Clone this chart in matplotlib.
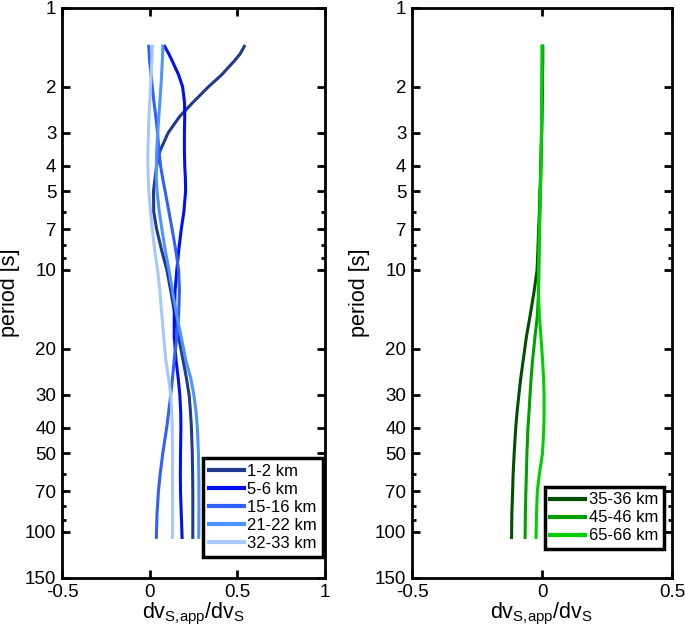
import matplotlib
matplotlib.use("Agg")
import matplotlib.pyplot as plt
from matplotlib.ticker import FixedLocator, NullFormatter

plt.rcParams['font.family'] = ['Liberation Sans', 'DejaVu Sans']
plt.rcParams['mathtext.fontset'] = 'custom'
plt.rcParams['mathtext.rm'] = 'Liberation Sans'
plt.rcParams['mathtext.it'] = 'Liberation Sans'

period = [1.4, 1.5, 1.6, 1.8, 2.0, 2.3, 2.6, 3.0, 3.5, 4.0, 4.5, 5.0, 6.0, 7.0, 8.5,
          10, 12, 15, 18, 22, 26, 30, 35, 40, 50, 60, 70, 85, 105]

# left panel (crust)
v_1_2 = [0.54, 0.515, 0.48, 0.41, 0.335, 0.245, 0.17, 0.105, 0.06, 0.04, 0.03, 0.022, 0.023, 0.04, 0.07,
         0.098, 0.12, 0.145, 0.165, 0.19, 0.21, 0.225, 0.233, 0.238, 0.243, 0.245, 0.246, 0.246, 0.246]
v_5_6 = [0.085, 0.11, 0.13, 0.165, 0.188, 0.199, 0.2, 0.198, 0.198, 0.2, 0.204, 0.205, 0.195, 0.18, 0.165,
         0.155, 0.145, 0.14, 0.14, 0.15, 0.163, 0.172, 0.177, 0.178, 0.176, 0.175, 0.176, 0.18, 0.185]
v_15_16 = [-0.005, -0.003, 0.0, 0.008, 0.015, 0.025, 0.035, 0.045, 0.053, 0.062, 0.075, 0.088, 0.11, 0.128, 0.15,
           0.165, 0.17, 0.165, 0.155, 0.14, 0.13, 0.12, 0.108, 0.097, 0.075, 0.06, 0.05, 0.042, 0.038]
v_21_22 = [0.075, 0.074, 0.072, 0.068, 0.064, 0.058, 0.052, 0.046, 0.04, 0.038, 0.038, 0.042, 0.055, 0.07, 0.09,
           0.11, 0.13, 0.155, 0.18, 0.205, 0.235, 0.252, 0.265, 0.272, 0.278, 0.28, 0.281, 0.281, 0.28]
v_32_33 = [0.015, 0.014, 0.012, 0.008, 0.005, 0.0, -0.004, -0.007, -0.01, -0.01, -0.008, -0.005, 0.005, 0.015, 0.03,
           0.045, 0.058, 0.07, 0.08, 0.092, 0.108, 0.12, 0.126, 0.129, 0.13, 0.13, 0.13, 0.13, 0.13]

# right panel (mantle)
v_35_36 = [0.003, 0.003, 0.003, 0.002, 0.002, 0.001, 0.0, -0.001, -0.003, -0.005, -0.006, -0.008, -0.01, -0.013, -0.016,
           -0.019, -0.03, -0.046, -0.06, -0.072, -0.082, -0.089, -0.096, -0.101, -0.107, -0.111, -0.113, -0.116, -0.117]
v_45_46 = [0.001, 0.001, 0.001, 0.0, 0.0, -0.001, -0.001, -0.002, -0.003, -0.004, -0.005, -0.006, -0.008, -0.01, -0.011,
           -0.012, -0.013, -0.018, -0.027, -0.036, -0.042, -0.046, -0.05, -0.054, -0.058, -0.06, -0.062, -0.064, -0.065]
v_65_66 = [0.0, 0.0, 0.0, 0.0, -0.001, -0.001, -0.002, -0.002, -0.003, -0.004, -0.005, -0.006, -0.008, -0.01, -0.012,
           -0.013, -0.014, -0.01, -0.004, 0.002, 0.006, 0.008, 0.008, 0.007, 0.002, -0.01, -0.018, -0.021, -0.023]

left_labels = ['1-2 km', '5-6 km', '15-16 km', '21-22 km', '32-33 km']
left_series = [v_1_2, v_5_6, v_15_16, v_21_22, v_32_33]
left_colors = ['#1f3a8f', '#0010f0', '#3060ff', '#4d94ff', '#a6c8ff']

right_labels = ['35-36 km', '45-46 km', '65-66 km']
right_series = [v_35_36, v_45_46, v_65_66]
right_colors = ['#005000', '#00a000', '#00d000']

yticks = [1, 2, 3, 4, 5, 7, 10, 20, 30, 40, 50, 70, 100, 150]
yminor = [6, 8, 9, 60, 80, 90]

W, H = 685, 640
fig = plt.figure(figsize=(W / 100, H / 100), dpi=100)
ax1 = fig.add_axes([62 / W, 62 / H, 263 / W, 570 / H])
ax2 = fig.add_axes([412 / W, 62 / H, 260 / W, 570 / H])

def style(ax, xlim, xt):
    ax.set_yscale('log')
    ax.set_ylim(150, 1)
    ax.set_xlim(*xlim)
    ax.yaxis.set_major_locator(FixedLocator(yticks))
    ax.yaxis.set_minor_locator(FixedLocator(yminor))
    ax.yaxis.set_minor_formatter(NullFormatter())
    ax.set_yticklabels([str(t) for t in yticks])
    ax.set_xticks(xt)
    ax.set_xticklabels([('%g' % t) for t in xt])
    ax.tick_params(which='both', direction='in', top=True, right=True, labelsize=13.5, width=2)
    ax.tick_params(which='major', length=6, pad=4)
    ax.tick_params(which='minor', length=3)
    for s in ax.spines.values():
        s.set_linewidth(2)
    ax.set_ylabel('period [s]', fontsize=15.5, labelpad=4)
    ax.set_xlabel('dv$_{\\mathregular{S{,}app}}$/dv$_{\\mathregular{S}}$', fontsize=15.5, labelpad=0)

for lab, vals, c in zip(left_labels, left_series, left_colors):
    ax1.plot(vals, period, color=c, lw=2.2, label=lab)
for lab, vals, c in zip(right_labels, right_series, right_colors):
    ax2.plot(vals, period, color=c, lw=2.2, label=lab)

style(ax1, (-0.5, 1), [-0.5, 0, 0.5, 1])
style(ax2, (-0.5, 0.5), [-0.5, 0, 0.5])

for ax, (rx, by) in ((ax1, (322.7, 556.7)), (ax2, (664.0, 549.3))):
    leg = ax.legend(loc='lower right', bbox_to_anchor=(rx / W, 1 - by / H),
                    bbox_transform=fig.transFigure, borderaxespad=0,
                    fontsize=12, frameon=True, fancybox=False,
                    edgecolor='black', framealpha=1, handlelength=2.1, handletextpad=0.2,
                    borderpad=0.35, labelspacing=0.18)
    leg.get_frame().set_linewidth(2.5)
    for ln in leg.get_lines():
        ln.set_linewidth(3)

fig.savefig('out.png', dpi=100)
